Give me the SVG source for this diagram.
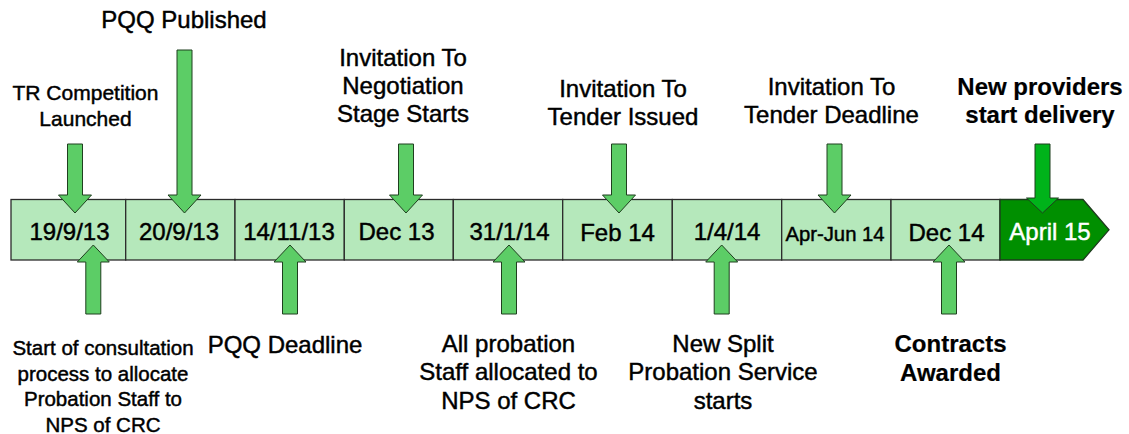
<svg xmlns="http://www.w3.org/2000/svg" width="1129" height="434" viewBox="0 0 1129 434">
<style>
.box{fill:#b5e8bb;stroke:#2b2b2b;stroke-width:1.3}
.dbox{fill:#008f00;stroke:#1e3a1e;stroke-width:1.3}
.arr{fill:#5ccd66;stroke:#1f3f1f;stroke-width:1}
.arr2{fill:#00b31a;stroke:#1f3f1f;stroke-width:1}
text{font-family:"Liberation Sans",Arial,sans-serif;fill:#000;text-anchor:middle;stroke:#000;stroke-width:0.45}
.d{font-size:24px}
.l{font-size:24px}
.s{font-size:20.5px}
.b{font-size:24px;font-weight:bold;stroke-width:0.2}
.w{fill:#fff;stroke:#fff}
</style>
<rect width="1129" height="434" fill="#fff"/>
<g id="timeline">
<g id="box-19-9-13"><rect class="box" x="11" y="199.5" width="114.7" height="60.5"/><text class="d" x="69.5" y="240">19/9/13</text></g>
<g id="box-20-9-13"><rect class="box" x="125.7" y="199.5" width="109.3" height="60.5"/><text class="d" x="179" y="240">20/9/13</text></g>
<g id="box-14-11-13"><rect class="box" x="235" y="199.5" width="109.3" height="60.5"/><text class="d" x="289" y="239.5">14/11/13</text></g>
<g id="box-dec-13"><rect class="box" x="344.3" y="199.5" width="109" height="60.5"/><text class="d" x="396.5" y="240">Dec 13</text></g>
<g id="box-31-1-14"><rect class="box" x="453.3" y="199.5" width="109.4" height="60.5"/><text class="d" x="509.5" y="239.5">31/1/14</text></g>
<g id="box-feb-14"><rect class="box" x="562.7" y="199.5" width="109.6" height="60.5"/><text class="d" x="617.5" y="240.5">Feb 14</text></g>
<g id="box-1-4-14"><rect class="box" x="672.3" y="199.5" width="109.4" height="60.5"/><text class="d" x="727" y="239.5">1/4/14</text></g>
<g id="box-apr-jun-14"><rect class="box" x="781.7" y="199.5" width="109.3" height="60.5"/><text x="835" y="240.5" style="font-size:20.3px">Apr-Jun 14</text></g>
<g id="box-dec-14"><rect class="box" x="891" y="199.5" width="109" height="60.5"/><text class="d" x="946.5" y="240.5">Dec 14</text></g>
<g id="box-april-15"><path class="dbox" d="M1000,199.5 H1083 L1109,229.8 L1083,260 H1000 Z"/><text class="d w" x="1050" y="240">April 15</text></g>
</g>
<g id="connectors">
<path class="arr" d="M67.5,144 H82.5 V195 H91.5 L75,213 L58.5,195 H67.5 Z"/>
<path class="arr" d="M177,50 H192 V195 H201 L184.5,213 L168,195 H177 Z"/>
<path class="arr" d="M398.5,144 H413.5 V195 H422.5 L406,213 L389.5,195 H398.5 Z"/>
<path class="arr" d="M611.5,144 H626.5 V195 H635.5 L619,213 L602.5,195 H611.5 Z"/>
<path class="arr" d="M827,144 H842 V195 H851 L834.5,213 L818,195 H827 Z"/>
<path class="arr2" d="M1035,144 H1050 V198 H1058.5 L1042.5,213 L1026.5,198 H1035 Z"/>
<path class="arr" d="M93.3,245 L109.3,262 H100.8 V314 H85.8 V262 H77.3 Z"/>
<path class="arr" d="M290,245 L306,262 H297.5 V314 H282.5 V262 H274 Z"/>
<path class="arr" d="M509,245 L525,262 H516.5 V314 H501.5 V262 H493 Z"/>
<path class="arr" d="M721.7,245 L737.7,262 H729.2 V314 H714.2 V262 H705.7 Z"/>
<path class="arr" d="M949,245 L965,262 H956.5 V314 H941.5 V262 H933 Z"/>
</g>
<g id="label-tr-competition"><text x="85.5" y="100" style="font-size:21px">TR Competition</text><text x="85.5" y="125.5" style="font-size:21px">Launched</text></g>
<g id="label-pqq-published"><text class="l" x="184" y="28">PQQ Published</text></g>
<g id="label-itn"><text class="l" x="403" y="66">Invitation To</text><text class="l" x="403" y="94">Negotiation</text><text class="l" x="403" y="122">Stage Starts</text></g>
<g id="label-itt-issued"><text class="l" x="623" y="96.5">Invitation To</text><text class="l" x="623" y="124.5">Tender Issued</text></g>
<g id="label-itt-deadline"><text class="l" x="831.5" y="95">Invitation To</text><text class="l" x="831.5" y="123">Tender Deadline</text></g>
<g id="label-new-providers"><text class="b" x="1040" y="95">New providers</text><text class="b" x="1040" y="123">start delivery</text></g>
<g id="label-consultation"><text class="s" x="103" y="355">Start of consultation</text><text class="s" x="103" y="380.5">process to allocate</text><text class="s" x="103" y="406">Probation Staff to</text><text class="s" x="103" y="431.5">NPS of CRC</text></g>
<g id="label-pqq-deadline"><text class="l" x="285" y="353">PQQ Deadline</text></g>
<g id="label-all-probation"><text class="l" x="508.5" y="352">All probation</text><text class="l" x="508.5" y="380">Staff allocated to</text><text class="l" x="508.5" y="408.5">NPS of CRC</text></g>
<g id="label-new-split"><text class="l" x="723" y="352">New Split</text><text class="l" x="723" y="380">Probation Service</text><text class="l" x="723" y="408.5">starts</text></g>
<g id="label-contracts"><text class="b" x="950.5" y="352">Contracts</text><text class="b" x="950.5" y="380.5">Awarded</text></g>
</svg>
